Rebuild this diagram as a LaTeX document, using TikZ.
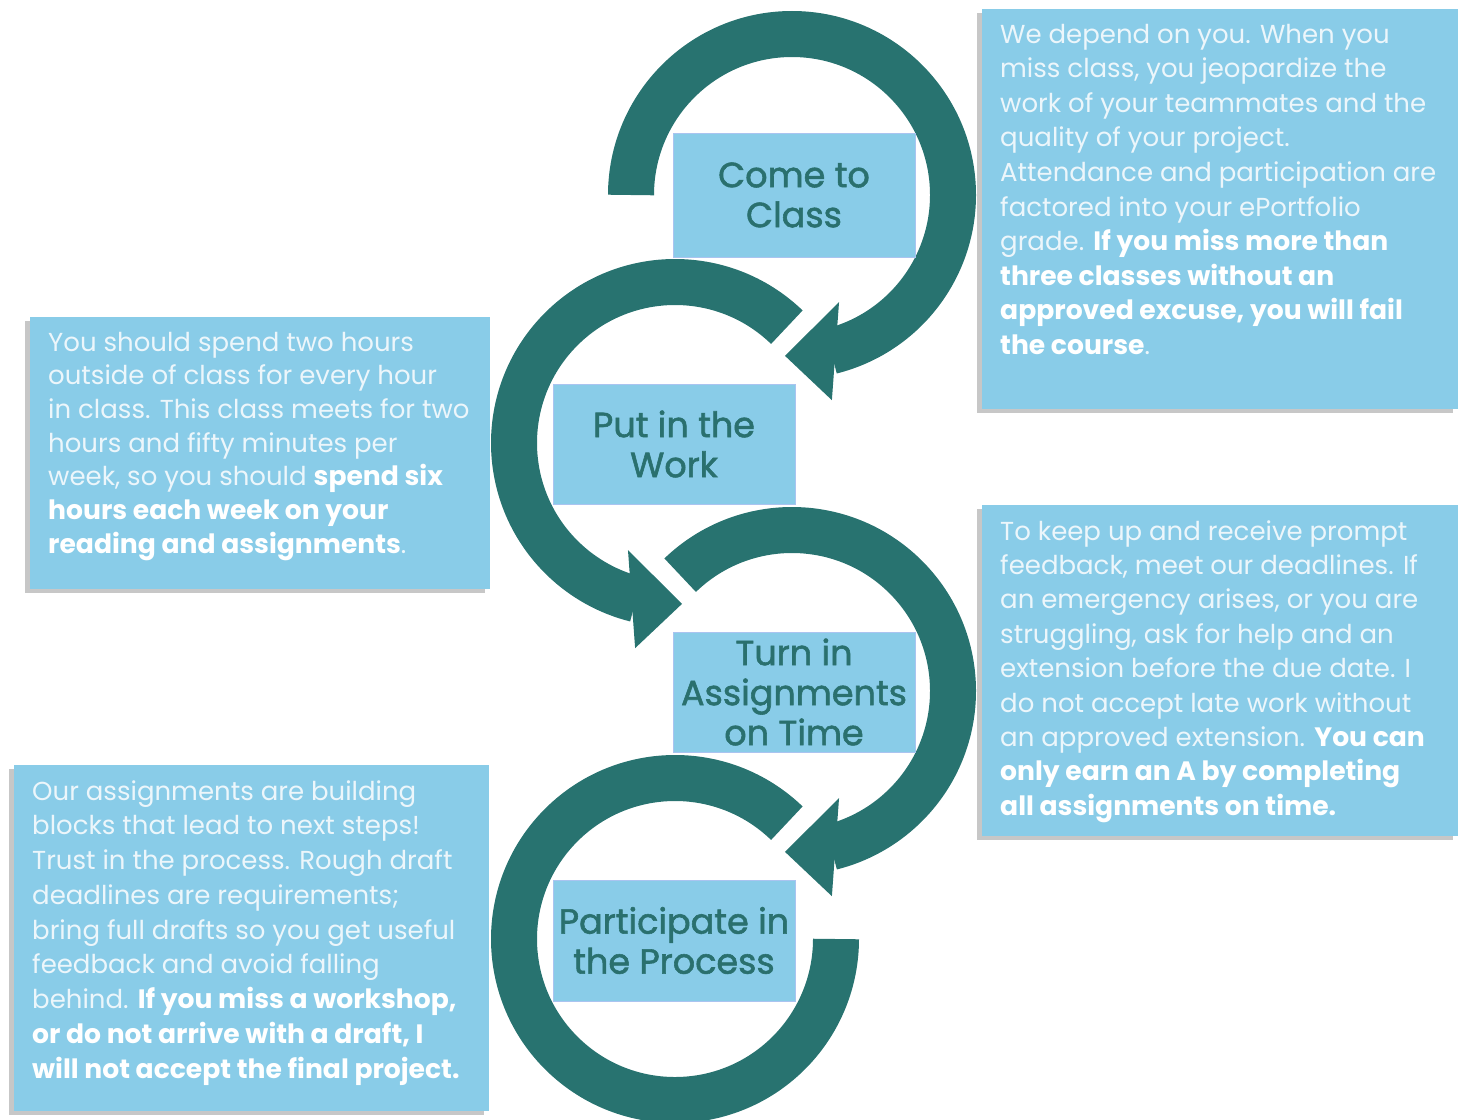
\documentclass[tikz,border=0pt]{standalone}
\usepackage{fontspec}
\setmainfont{Poppins}
\newfontfamily\stepfont[FakeBold=1.6]{Poppins}
\usetikzlibrary{calc}
\definecolor{teal1}{RGB}{40,115,112}
\definecolor{boxblue}{RGB}{137,204,232}
\definecolor{boxedge}{RGB}{170,196,240}
\definecolor{ntext}{RGB}{42,112,110}
\definecolor{itext}{RGB}{236,246,251}
\newcommand{\hl}[1]{\textcolor{white}{\bfseries\fontsize{26.6}{34}\selectfont #1}}
\begin{document}
\begin{tikzpicture}[x=1pt,y=1pt,
  band/.style={line width=46pt, draw=teal1},
  head/.style={fill=teal1},
  stepbox/.style={fill=boxblue, draw=boxedge, line width=1pt, minimum width=242pt,
    minimum height=122pt, inner sep=0pt, align=center, text=ntext,
    font=\stepfont\fontsize{35}{40}\selectfont},
  infobox/.style={fill=boxblue, draw=none, anchor=north west, inner sep=0pt},
  shadowbox/.style={fill=black, opacity=0.22},
  infotext/.style={anchor=base west, align=left, inner sep=0pt, text=itext}
]
\useasboundingbox (0,0) rectangle (1461,-1119);

% circle centres
\coordinate (c1) at (792,-195);
\coordinate (c2) at (675,-443);
\coordinate (c3) at (792,-691);
\coordinate (c4) at (675,-939);

% circular arrows
\draw[band] ($(c1)+(180:161)$) arc[start angle=180, end angle=-76, radius=161];
\fill[head] ($(c1)+(-66.3:117)$) -- ($(c1)+(-92.5:161)$) -- ($(c1)+(-79:209)$) -- cycle;

\draw[band] ($(c2)+(46:161)$) arc[start angle=46, end angle=256, radius=161];
\fill[head] ($(c2)+(246.3:117)$) -- ($(c2)+(272.5:161)$) -- ($(c2)+(259:209)$) -- cycle;

\draw[band] ($(c3)+(134:161)$) arc[start angle=134, end angle=-76, radius=161];
\fill[head] ($(c3)+(-66.3:117)$) -- ($(c3)+(-92.5:161)$) -- ($(c3)+(-79:209)$) -- cycle;

\draw[band] ($(c4)+(46:161)$) arc[start angle=46, end angle=360, radius=161];

% step boxes
\node[stepbox, minimum height=124pt] (s1) at (794,-195) {Come to\\Class};
\node[stepbox, minimum height=120pt] (s2) at (674,-444) {Put in the\\Work};
\node[stepbox, minimum height=120pt] (s3) at (794,-692) {Turn in\\Assignments\\on Time};
\node[stepbox, minimum height=121pt] (s4) at (674,-940.5) {Participate in\\the Process};

% info boxes with shadows
\fill[shadowbox] (977,-13) rectangle (1453,-413);
\node[infobox, minimum width=476pt, minimum height=400pt] (b1) at (982,-9) {};
\fill[shadowbox] (25,-321) rectangle (485,-593);
\node[infobox, minimum width=460pt, minimum height=272pt] (b2) at (30,-317) {};
\fill[shadowbox] (977,-509) rectangle (1453,-840);
\node[infobox, minimum width=476pt, minimum height=331pt] (b3) at (982,-505) {};
\fill[shadowbox] (9,-769) rectangle (484,-1115);
\node[infobox, minimum width=475pt, minimum height=346pt] (b4) at (14,-765) {};

% texts (anchored at the baseline of their last line)
\node[infotext, font=\fontsize{26}{34.6}\selectfont] (t1) at (1000,-354.4) {We depend on you. When you\\
miss class, you jeopardize the\\
work of your teammates and the\\
quality of your project.\\
Attendance and participation are\\
factored into your ePortfolio\\
grade. \hl{If you miss more than}\\
\hl{three classes without an}\\
\hl{approved excuse, you will fail}\\
\hl{the course}.};

\node[infotext, font=\fontsize{26}{33.7}\selectfont] (t2) at (48,-553.2) {You should spend two hours\\
outside of class for every hour\\
in class. This class meets for two\\
hours and fifty minutes per\\
week, so you should \hl{spend six}\\
\hl{hours each week on your}\\
\hl{reading and assignments}.};

\node[infotext, font=\fontsize{26}{34.4}\selectfont] (t3) at (1000,-815.2) {To keep up and receive prompt\\
feedback, meet our deadlines. If\\
an emergency arises, or you are\\
struggling, ask for help and an\\
extension before the due date. I\\
do not accept late work without\\
an approved extension. \hl{You can}\\
\hl{only earn an A by completing}\\
\hl{all assignments on time.}};

\node[infotext, font=\fontsize{26}{34.75}\selectfont] (t4) at (32,-1078) {Our assignments are building\\
blocks that lead to next steps!\\
Trust in the process. Rough draft\\
deadlines are requirements;\\
bring full drafts so you get useful\\
feedback and avoid falling\\
behind. \hl{If you miss a workshop,}\\
\hl{or do not arrive with a draft, I}\\
\hl{will not accept the final project.}};
\end{tikzpicture}
\end{document}
